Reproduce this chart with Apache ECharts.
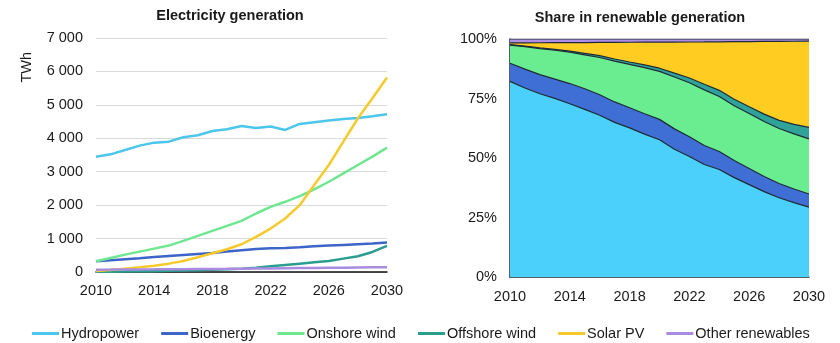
<!DOCTYPE html>
<html><head><meta charset="utf-8">
<script src="https://cdn.jsdelivr.net/npm/echarts@6/dist/echarts.min.js"></script>
<style>html,body{margin:0;padding:0;background:#fff}#c{width:840px;height:343px}</style>
</head><body><div id="c"></div>
<script>
const years = ['2010','2011','2012','2013','2014','2015','2016','2017','2018','2019','2020','2021','2022','2023','2024','2025','2026','2027','2028','2029','2030'];
const hydropower = [3450,3520,3650,3780,3870,3900,4030,4090,4220,4270,4370,4310,4350,4250,4430,4480,4530,4580,4610,4660,4720];
const bioenergy  = [320,350,380,410,450,480,510,540,570,610,650,690,710,720,740,770,790,810,830,850,880];
const onshoreWind = [320,420,520,610,700,790,930,1080,1230,1380,1530,1750,1950,2100,2270,2470,2700,2950,3200,3450,3720];
const offshoreWind = [7,10,15,20,25,35,45,55,65,80,100,130,170,210,250,290,330,400,470,600,780];
const solarPV = [30,60,100,140,190,250,330,440,560,680,830,1050,1300,1600,2000,2600,3200,3900,4600,5200,5820];
const otherRen = [70,72,75,78,80,83,86,89,92,95,100,104,108,112,116,120,125,130,135,140,145];
const names = ['Hydropower','Bioenergy','Onshore wind','Offshore wind','Solar PV','Other renewables'];
const colorsLine = ['#4cc6ea','#3d65c9','#6fe690','#2a9d8f','#f6c92c','#a98be0'];
const colorsArea = ['#4ad0fa','#3f6fd4','#6aec90','#2fa39a','#ffcc22','#b08ee6'];
const seriesData = [hydropower,bioenergy,onshoreWind,offshoreWind,solarPV,otherRen];

const totals = years.map((_,i)=>seriesData.reduce((s,a)=>s+a[i],0));
const shares = seriesData.map(a=>a.map((v,i)=>v/totals[i]*100));

const font = 'Liberation Sans, Arial, sans-serif';
const FS = 14.5;
const chart = echarts.init(document.getElementById('c'));
const lineSeries = seriesData.map((d,k)=>({
  name:names[k], type:'line', xAxisIndex:0, yAxisIndex:0, data:d, symbol:'none',
  lineStyle:{width:2.5,color:colorsLine[k]}, itemStyle:{color:colorsLine[k]}
}));
const areaSeries = shares.map((d,k)=>({
  name:names[k], type:'line', xAxisIndex:1, yAxisIndex:1, data:d, symbol:'none', stack:'s',
  lineStyle:{width:1.2,color:'#1d2b36'}, areaStyle:{color:colorsArea[k],opacity:1}, itemStyle:{color:colorsLine[k]}
}));
chart.setOption({
  animation:false,
  textStyle:{fontFamily:font},
  title:[
    {text:'Electricity generation',left:225,top:3,textAlign:'center',textStyle:{fontSize:FS,fontWeight:'bold',color:'#1a1a1a',fontFamily:font}},
    {text:'Share in renewable generation',left:635,top:5,textAlign:'center',textStyle:{fontSize:FS,fontWeight:'bold',color:'#1a1a1a',fontFamily:font}}
  ],
  graphic:[{type:'text',left:19,top:52,rotation:Math.PI/2,style:{text:'TWh',font:FS+'px '+font,fill:'#1a1a1a'}}],
  legend:{data:names,left:27,top:321,icon:'rect',itemWidth:27,itemHeight:3,itemGap:22,
    textStyle:{fontSize:FS,color:'#1a1a1a',fontFamily:font,padding:[0,0,0,-3]}},
  grid:[
    {left:96,right:453,top:38,bottom:71},
    {left:510,right:31,top:39,bottom:66}
  ],
  xAxis:[
    {type:'category',gridIndex:0,data:years,boundaryGap:false,
     axisLine:{lineStyle:{color:'#111',width:1.5}},axisTick:{show:false},
     axisLabel:{interval:3,fontSize:FS,color:'#1a1a1a',margin:11}},
    {type:'category',gridIndex:1,data:years,boundaryGap:false,
     axisLine:{lineStyle:{color:'#1d2b36',width:1.5}},axisTick:{show:false},
     axisLabel:{interval:3,fontSize:FS,color:'#1a1a1a',margin:12}}
  ],
  yAxis:[
    {type:'value',gridIndex:0,min:0,max:7000,interval:1000,
     axisLine:{show:false},axisTick:{show:false},
     splitLine:{lineStyle:{color:'#d9d9d9'}},
     axisLabel:{fontSize:FS,color:'#1a1a1a',margin:13,formatter:v=>String(v).replace(/\B(?=(\d{3})+(?!\d))/g,' ')}},
    {type:'value',gridIndex:1,min:0,max:100,interval:25,
     axisLine:{show:true,lineStyle:{color:'#1d2b36',width:1.5}},axisTick:{show:false},
     splitLine:{show:false},
     axisLabel:{fontSize:FS,color:'#1a1a1a',margin:13,formatter:'{value}%'}}
  ],
  series:[...lineSeries,...areaSeries]
});
</script></body></html>
